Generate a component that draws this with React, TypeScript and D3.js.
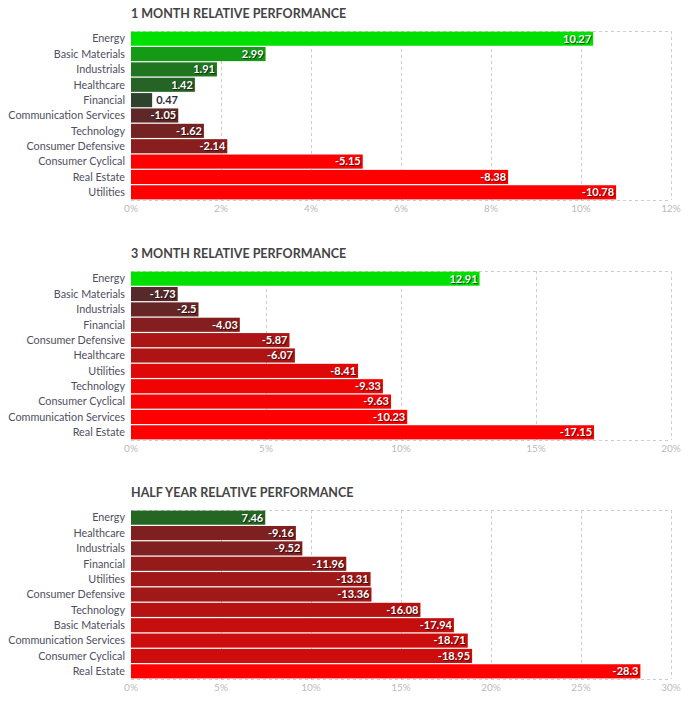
import * as d3 from 'd3';
import { useEffect, useRef } from 'react';

const titles = [
  '1 MONTH RELATIVE PERFORMANCE',
  '3 MONTH RELATIVE PERFORMANCE',
  'HALF YEAR RELATIVE PERFORMANCE',
];

const monthSectors = [
  'Energy', 'Basic Materials', 'Industrials', 'Healthcare', 'Financial',
  'Communication Services', 'Technology', 'Consumer Defensive',
  'Consumer Cyclical', 'Real Estate', 'Utilities',
];
const monthValues = [10.27, 2.99, 1.91, 1.42, 0.47, -1.05, -1.62, -2.14, -5.15, -8.38, -10.78];

const quarterSectors = [
  'Energy', 'Basic Materials', 'Industrials', 'Financial', 'Consumer Defensive',
  'Healthcare', 'Utilities', 'Technology', 'Consumer Cyclical',
  'Communication Services', 'Real Estate',
];
const quarterValues = [12.91, -1.73, -2.5, -4.03, -5.87, -6.07, -8.41, -9.33, -9.63, -10.23, -17.15];

const halfSectors = [
  'Energy', 'Healthcare', 'Industrials', 'Financial', 'Utilities',
  'Consumer Defensive', 'Technology', 'Basic Materials',
  'Communication Services', 'Consumer Cyclical', 'Real Estate',
];
const halfValues = [7.46, -9.16, -9.52, -11.96, -13.31, -13.36, -16.08, -17.94, -18.71, -18.95, -28.3];

const axisMax = [12, 20, 30];
const tickSteps = [2, 5, 5];
const colorLimits = [5, 10, 25];

const panels = [
  { sectors: monthSectors, values: monthValues },
  { sectors: quarterSectors, values: quarterValues },
  { sectors: halfSectors, values: halfValues },
];

const W = 690;
const H = 701;
const left = 131;
const right = 671;
const panelOffset = 239.5;
const plotTop = 31;
const plotH = 169;

export default function App() {
  const svgRef = useRef(null);

  useEffect(() => {
    const svg = d3.select(svgRef.current);
    svg.selectAll('*').remove();

    panels.forEach((p, i) => {
      const g = svg.append('g').attr('transform', 'translate(0,' + Math.round(i * panelOffset) + ')');

      const x = d3.scaleLinear().domain([0, axisMax[i]]).range([left, right]);
      const y = d3
        .scaleBand()
        .domain(p.sectors)
        .range([plotTop, plotTop + plotH])
        .paddingInner(0.08)
        .paddingOuter(0.04);

      const neutral = '#333333';
      const posColor = d3.scaleLinear<string>().domain([0, colorLimits[i]]).range([neutral, '#00e000']).clamp(true);
      const negColor = d3.scaleLinear<string>().domain([0, colorLimits[i]]).range([neutral, '#ff0000']).clamp(true);

      // title
      g.append('text')
        .attr('x', left)
        .attr('y', 18)
        .style('font-family', 'Lato')
        .style('font-weight', 'bold')
        .style('font-size', '12.5px')
        .style('fill', '#444')
        .text(titles[i]);

      // grid
      const ticks = d3.range(0, axisMax[i] + 0.001, tickSteps[i]);
      g.append('g')
        .selectAll('line')
        .data(ticks.slice(1))
        .enter()
        .append('line')
        .attr('x1', (d) => x(d) + 0.5)
        .attr('x2', (d) => x(d) + 0.5)
        .attr('y1', plotTop)
        .attr('y2', plotTop + plotH)
        .style('stroke', '#ccc')
        .style('stroke-dasharray', '3,3');

      [plotTop, plotTop + plotH].forEach((yy) => {
        g.append('line')
          .attr('x1', left)
          .attr('x2', right)
          .attr('y1', yy + 0.5)
          .attr('y2', yy + 0.5)
          .style('stroke', '#ccc')
          .style('stroke-dasharray', '3,3');
      });

      g.append('g')
        .selectAll('text')
        .data(ticks)
        .enter()
        .append('text')
        .attr('x', (d) => x(d))
        .attr('y', plotTop + plotH + 12)
        .attr('text-anchor', 'middle')
        .style('font-family', 'Lato')
        .style('font-size', '10px')
        .style('fill', '#bbb')
        .text((d) => d + '%');

      // sector labels
      g.append('g')
        .selectAll('text')
        .data(p.sectors)
        .enter()
        .append('text')
        .attr('x', left - 6)
        .attr('y', (d) => (y(d) as number) + y.bandwidth() / 2)
        .attr('dy', '0.35em')
        .attr('text-anchor', 'end')
        .style('font-family', 'Lato')
        .style('font-size', '10.8px')
        .style('fill', '#505060')
        .text((d) => d);

      const rows = p.sectors.map((s, k) => ({ s, v: p.values[k] }));

      g.append('g')
        .selectAll('rect')
        .data(rows)
        .enter()
        .append('rect')
        .attr('x', left)
        .attr('y', (d) => y(d.s) as number)
        .attr('width', (d) => x(Math.abs(d.v)) - left)
        .attr('height', y.bandwidth())
        .style('fill', (d) => (d.v >= 0 ? posColor(d.v) : negColor(-d.v)));

      g.append('g')
        .selectAll('text')
        .data(rows)
        .enter()
        .append('text')
        .each(function (d) {
          const w = x(Math.abs(d.v)) - left;
          const inside = w > 30;
          d3.select(this)
            .attr('x', inside ? left + w - 2 : left + w + 4)
            .attr('text-anchor', inside ? 'end' : 'start')
            .style('fill', inside ? '#fff' : '#2a2a3a')
            .style('text-shadow', inside ? '1px 1px 1px rgba(0,0,0,0.7)' : 'none');
        })
        .attr('y', (d) => (y(d.s) as number) + y.bandwidth() / 2)
        .attr('dy', '0.35em')
        .style('font-family', 'Lato')
        .style('font-weight', 'bold')
        .style('font-size', '11px')
        .text((d) => String(d.v));
    });
  }, []);

  return (
    <div>
      <svg
        ref={svgRef}
        width={W}
        height={H}
        style={{ position: 'absolute', left: 0, top: 0 }}
      ></svg>
    </div>
  );
}
